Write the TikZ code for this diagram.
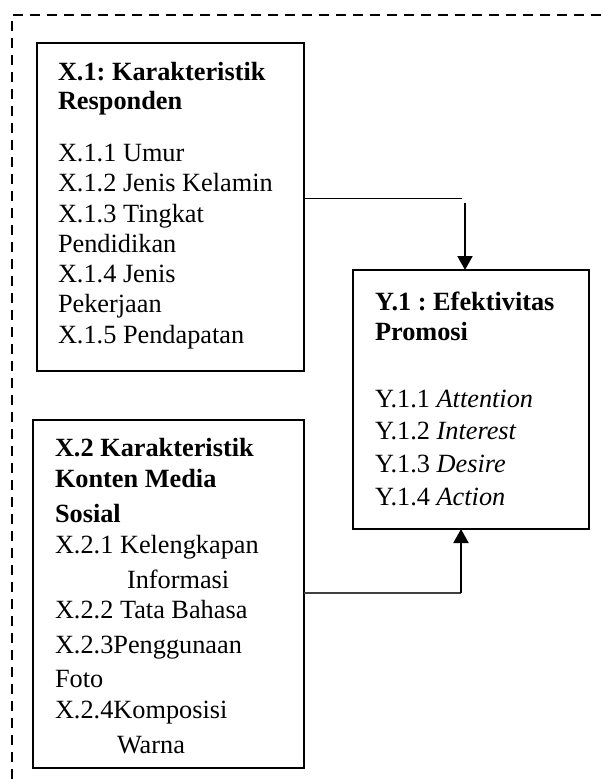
\documentclass[tikz,border=0pt]{standalone}
\usepackage{fontspec}
\setmainfont{Liberation Serif}
\frenchspacing
\usetikzlibrary{arrows.meta}
\tikzset{
  box/.style={draw, line width=2pt, inner sep=0pt, outer sep=0pt, anchor=north west},
  txt/.style={anchor=base west, inner sep=0pt, outer sep=0pt, font=\fontsize{26.3}{30}\selectfont},
  thinline/.style={line width=1pt},
  midline/.style={line width=1.6pt, black!75},
  arr/.style={line width=2pt, -{Triangle[length=14pt,width=15pt]}},
  frame/.style={line width=2pt, dash pattern=on 10pt off 7pt}
}
\begin{document}
\begin{tikzpicture}[x=1pt,y=-1pt]
\useasboundingbox (0,0) rectangle (601,779);
% outer dashed frame
\coordinate (fr1) at (601,15);
\coordinate (fr2) at (12,15);
\coordinate (fr3) at (12,779);
\draw[frame] (fr1) -- (fr2) -- (fr3);
% boxes
\node[box, minimum width=267pt, minimum height=328pt] (X1) at (37,43) {};
\node[box, minimum width=271pt, minimum height=348pt] (X2) at (33,420) {};
\node[box, minimum width=236pt, minimum height=259pt] (Y1) at (353,270) {};
% X.1 text
\node[txt] (a1) at (58,80) {\textbf{X.1: Karakteristik}};
\node[txt] (a2) at (58,109) {\textbf{Responden}};
\node[txt] (a3) at (58,161) {X.1.1 Umur};
\node[txt] (a4) at (58,191) {X.1.2 Jenis Kelamin};
\node[txt] (a5) at (58,222) {X.1.3 Tingkat};
\node[txt] (a6) at (58,252) {Pendidikan};
\node[txt] (a7) at (58,282) {X.1.4 Jenis};
\node[txt] (a8) at (58,312) {Pekerjaan};
\node[txt] (a9) at (58,343) {X.1.5 Pendapatan};
% X.2 text
\node[txt] (b1) at (55,456) {\textbf{X.2 Karakteristik}};
\node[txt] (b2) at (55,487) {\textbf{Konten Media}};
\node[txt] (b3) at (55,522) {\textbf{Sosial}};
\node[txt] (b4) at (55,553) {X.2.1 Kelengkapan};
\node[txt] (b5) at (127,588) {Informasi};
\node[txt] (b6) at (55,618) {X.2.2 Tata Bahasa};
\node[txt] (b7) at (55,653) {X.2.3Penggunaan};
\node[txt] (b8) at (55,687) {Foto};
\node[txt] (b9) at (55,718) {X.2.4Komposisi};
\node[txt] (b10) at (117,753) {Warna};
% Y.1 text
\node[txt] (c1t) at (375,310) {\textbf{Y.1 : Efektivitas}};
\node[txt] (c2t) at (375,340) {\textbf{Promosi}};
\node[txt] (c3t) at (375,407) {Y.1.1 \textit{Attention}};
\node[txt] (c4t) at (375,439) {Y.1.2 \textit{Interest}};
\node[txt] (c5t) at (375,472) {Y.1.3 \textit{Desire}};
\node[txt] (c6t) at (375,505) {Y.1.4 \textit{Action}};
% connectors
\coordinate (k1) at (462,198);
\coordinate (k1b) at (465,203);
\draw[thinline] (X1.east |- k1) -- (k1);
\draw[arr] (k1b) -- (k1b |- Y1.north);
\coordinate (k2) at (461,593);
\draw[midline] (X2.east |- k2) -- (k2);
\draw[arr] (k2) -- (k2 |- Y1.south);
\end{tikzpicture}
\end{document}
